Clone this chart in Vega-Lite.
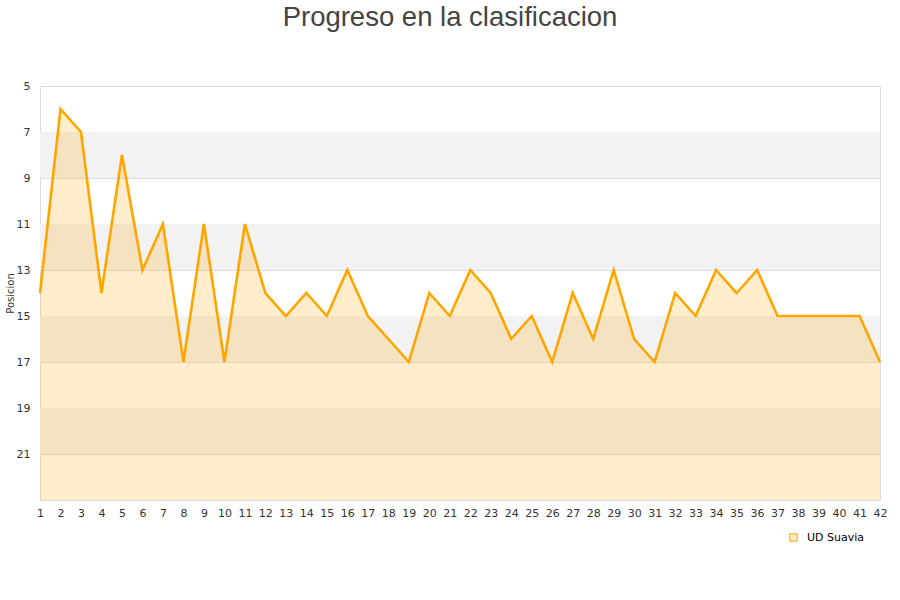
{
  "$schema": "https://vega.github.io/schema/vega-lite/v6.json",
  "width": 840,
  "height": 414,
  "autosize": "none",
  "padding": {"left": 40, "top": 86, "right": 20, "bottom": 100},
  "background": "white",
  "config": {
    "view": {"stroke": "#dcdcdc", "strokeWidth": 1},
    "font": "DejaVu Sans",
    "axisX": {
      "grid": false,
      "ticks": false,
      "domain": false,
      "labelFontSize": 11,
      "labelColor": "#333333",
      "labelPadding": 7,
      "labelAngle": 0,
      "labelOverlap": false,
      "labelFlush": false
    },
    "axisY": {
      "grid": true,
      "gridColor": "#dddddd",
      "ticks": false,
      "domain": false,
      "labelFontSize": 11,
      "labelColor": "#333333",
      "labelPadding": 10
    }
  },
  "title": {
    "text": "Progreso en la clasificacion",
    "font": "Liberation Sans",
    "fontSize": 27.5,
    "fontWeight": "normal",
    "color": "#444444",
    "anchor": "middle",
    "frame": "group",
    "dx": -10,
    "offset": 49
  },
  "datasets": {
    "bands": [
      {"y1": 7, "y2": 9},
      {"y1": 11, "y2": 13},
      {"y1": 15, "y2": 17},
      {"y1": 19, "y2": 21}
    ],
    "pos": [
      {"jornada": 1, "posicion": 14, "equipo": "UD Suavia"},
      {"jornada": 2, "posicion": 6, "equipo": "UD Suavia"},
      {"jornada": 3, "posicion": 7, "equipo": "UD Suavia"},
      {"jornada": 4, "posicion": 14, "equipo": "UD Suavia"},
      {"jornada": 5, "posicion": 8, "equipo": "UD Suavia"},
      {"jornada": 6, "posicion": 13, "equipo": "UD Suavia"},
      {"jornada": 7, "posicion": 11, "equipo": "UD Suavia"},
      {"jornada": 8, "posicion": 17, "equipo": "UD Suavia"},
      {"jornada": 9, "posicion": 11, "equipo": "UD Suavia"},
      {"jornada": 10, "posicion": 17, "equipo": "UD Suavia"},
      {"jornada": 11, "posicion": 11, "equipo": "UD Suavia"},
      {"jornada": 12, "posicion": 14, "equipo": "UD Suavia"},
      {"jornada": 13, "posicion": 15, "equipo": "UD Suavia"},
      {"jornada": 14, "posicion": 14, "equipo": "UD Suavia"},
      {"jornada": 15, "posicion": 15, "equipo": "UD Suavia"},
      {"jornada": 16, "posicion": 13, "equipo": "UD Suavia"},
      {"jornada": 17, "posicion": 15, "equipo": "UD Suavia"},
      {"jornada": 18, "posicion": 16, "equipo": "UD Suavia"},
      {"jornada": 19, "posicion": 17, "equipo": "UD Suavia"},
      {"jornada": 20, "posicion": 14, "equipo": "UD Suavia"},
      {"jornada": 21, "posicion": 15, "equipo": "UD Suavia"},
      {"jornada": 22, "posicion": 13, "equipo": "UD Suavia"},
      {"jornada": 23, "posicion": 14, "equipo": "UD Suavia"},
      {"jornada": 24, "posicion": 16, "equipo": "UD Suavia"},
      {"jornada": 25, "posicion": 15, "equipo": "UD Suavia"},
      {"jornada": 26, "posicion": 17, "equipo": "UD Suavia"},
      {"jornada": 27, "posicion": 14, "equipo": "UD Suavia"},
      {"jornada": 28, "posicion": 16, "equipo": "UD Suavia"},
      {"jornada": 29, "posicion": 13, "equipo": "UD Suavia"},
      {"jornada": 30, "posicion": 16, "equipo": "UD Suavia"},
      {"jornada": 31, "posicion": 17, "equipo": "UD Suavia"},
      {"jornada": 32, "posicion": 14, "equipo": "UD Suavia"},
      {"jornada": 33, "posicion": 15, "equipo": "UD Suavia"},
      {"jornada": 34, "posicion": 13, "equipo": "UD Suavia"},
      {"jornada": 35, "posicion": 14, "equipo": "UD Suavia"},
      {"jornada": 36, "posicion": 13, "equipo": "UD Suavia"},
      {"jornada": 37, "posicion": 15, "equipo": "UD Suavia"},
      {"jornada": 38, "posicion": 15, "equipo": "UD Suavia"},
      {"jornada": 39, "posicion": 15, "equipo": "UD Suavia"},
      {"jornada": 40, "posicion": 15, "equipo": "UD Suavia"},
      {"jornada": 41, "posicion": 15, "equipo": "UD Suavia"},
      {"jornada": 42, "posicion": 17, "equipo": "UD Suavia"}
    ]
  },
  "layer": [
    {
      "data": {"name": "bands"},
      "mark": {"type": "rect", "color": "#f2f2f2"},
      "encoding": {
        "y": {
          "field": "y1",
          "type": "quantitative",
          "scale": {"domain": [5, 23], "reverse": true, "nice": false, "zero": false},
          "axis": {
            "title": "Posicion",
            "titleFontSize": 10,
            "titleFontWeight": "normal",
            "titleColor": "#333333",
            "titlePadding": 1,
            "values": [5, 7, 9, 11, 13, 15, 17, 19, 21]
          }
        },
        "y2": {"field": "y2"}
      }
    },
    {
      "data": {"name": "pos"},
      "mark": {"type": "area", "color": "#FFA500", "opacity": 0.2},
      "encoding": {
        "x": {
          "field": "jornada",
          "type": "ordinal",
          "scale": {"type": "point", "padding": 0},
          "axis": {"title": null, "labelOverlap": false}
        },
        "y": {"field": "posicion", "type": "quantitative"},
        "y2": {"datum": 23}
      }
    },
    {
      "data": {"name": "pos"},
      "mark": {"type": "line", "strokeWidth": 2.6, "strokeJoin": "miter"},
      "encoding": {
        "x": {"field": "jornada", "type": "ordinal"},
        "y": {"field": "posicion", "type": "quantitative"},
        "color": {
          "field": "equipo",
          "type": "nominal",
          "scale": {"range": ["#FFA500"]},
          "legend": {
            "title": null,
            "orient": "none",
            "legendX": 748,
            "legendY": 446,
            "symbolType": "square",
            "symbolSize": 55,
            "symbolFillColor": "#fde9c6",
            "symbolStrokeColor": "#b8955a",
            "symbolStrokeWidth": 1,
            "labelFontSize": 11,
            "labelOffset": 8,
            "labelColor": "#000000"
          }
        }
      }
    }
  ]
}
